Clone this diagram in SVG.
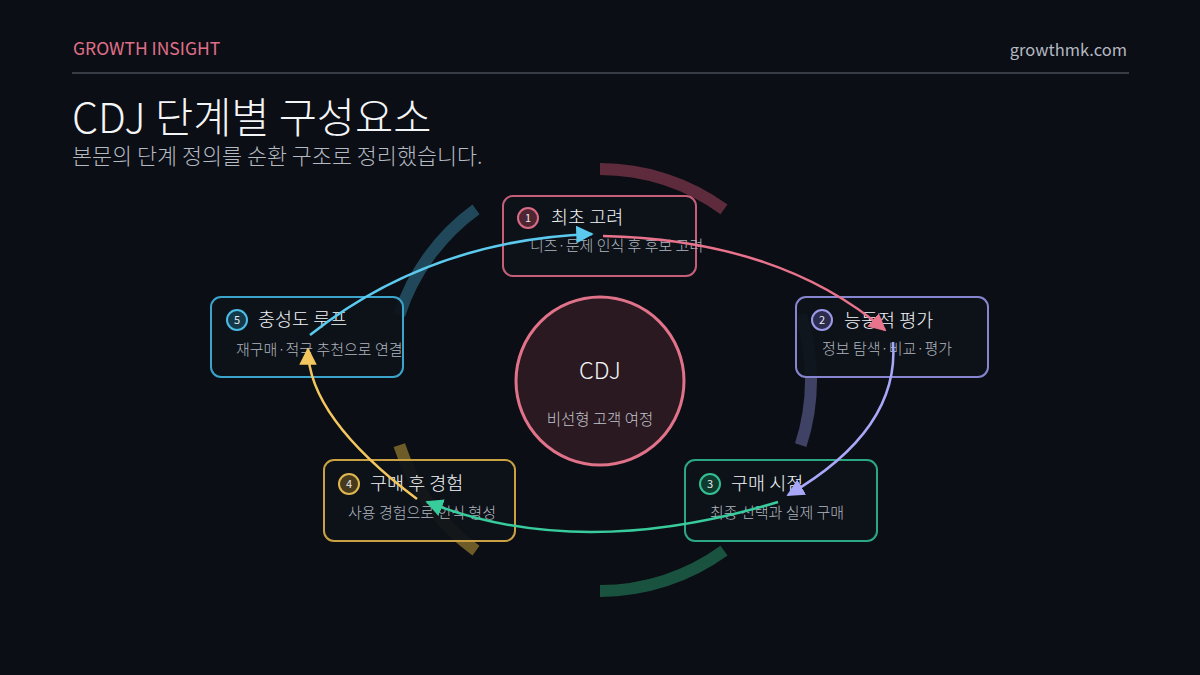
<svg xmlns="http://www.w3.org/2000/svg" width="1200" height="675" viewBox="0 0 1200 675">
<defs>
<style>
text{font-family:"Noto Sans CJK KR","Noto Sans",sans-serif}
.box{fill:#0e131a;fill-opacity:0.94;stroke-width:2}
.ttl{font-size:18.5px;fill:#f2f4f7;font-weight:300}
.sub{font-size:15px;fill:#b0b5bf;font-weight:300}
.num{font-size:11px;fill:#e8eaee;text-anchor:middle}
.arc{fill:none;stroke-width:12;opacity:0.45}
.con{fill:none;stroke-width:2.5}
</style>
<marker id="mPink" viewBox="0 0 10 10" refX="9" refY="5" markerWidth="7" markerHeight="7" orient="auto" markerUnits="strokeWidth"><path d="M0,0 L10,5 L0,10 Z" fill="#e8738c"/></marker>
<marker id="mLav" viewBox="0 0 10 10" refX="9" refY="5" markerWidth="7" markerHeight="7" orient="auto" markerUnits="strokeWidth"><path d="M0,0 L10,5 L0,10 Z" fill="#a9a7f7"/></marker>
<marker id="mGreen" viewBox="0 0 10 10" refX="9" refY="5" markerWidth="7" markerHeight="7" orient="auto" markerUnits="strokeWidth"><path d="M0,0 L10,5 L0,10 Z" fill="#38cc9c"/></marker>
<marker id="mGold" viewBox="0 0 10 10" refX="9" refY="5" markerWidth="7" markerHeight="7" orient="auto" markerUnits="strokeWidth"><path d="M0,0 L10,5 L0,10 Z" fill="#f3c75e"/></marker>
<marker id="mBlue" viewBox="0 0 10 10" refX="9" refY="5" markerWidth="7" markerHeight="7" orient="auto" markerUnits="strokeWidth"><path d="M0,0 L10,5 L0,10 Z" fill="#5ccaee"/></marker>
</defs>
<rect x="0" y="0" width="1200" height="675" fill="#0b0e14"/>

<g id="header">
<text x="73" y="55" style="font-size:17.5px;fill:#e0708a">GROWTH INSIGHT</text>
<text x="1127" y="56" style="font-size:16.5px;fill:#b4b9c2;text-anchor:end">growthmk.com</text>
<line x1="72" y1="73" x2="1129" y2="73" stroke="#363b44" stroke-width="2"/>
<text x="72" y="133" style="font-size:41.5px;fill:#f4f5f7;font-weight:300">CDJ 단계별 구성요소</text>
<text x="72" y="164" style="font-size:21.8px;fill:#b4b9c2;font-weight:300">본문의 단계 정의를 순환 구조로 정리했습니다.</text>
</g>

<g id="ring">
<path class="arc" stroke="#c0506c" d="M600,169 A211,211 0 0 1 724,209.3"/>
<path class="arc" stroke="#7e80c8" d="M800.7,314.8 A211,211 0 0 1 800.7,445.2"/>
<path class="arc" stroke="#2aa876" d="M724,550.7 A211,211 0 0 1 600,591"/>
<path class="arc" stroke="#c09a38" style="opacity:0.55" d="M476,550.7 A211,211 0 0 1 399.3,445.2"/>
<path class="arc" stroke="#3a90b0" d="M399.3,314.8 A211,211 0 0 1 476,209.3"/>
</g>

<g id="center">
<circle cx="600" cy="381" r="84" fill="#2a1920" stroke="#e0728a" stroke-width="3"/>
<text x="600" y="379" style="font-size:23.5px;fill:#f2f4f7;text-anchor:middle;font-weight:300">CDJ</text>
<text x="600" y="425" style="font-size:15.5px;fill:#c2c4cc;text-anchor:middle;font-weight:300">비선형 고객 여정</text>
</g>

<g id="node1">
<rect class="box" x="503" y="196" width="193" height="80" rx="10" stroke="#c55f78"/>
<circle cx="528" cy="218" r="10" fill="#4f2532" stroke="#d86c86" stroke-width="2"/>
<text class="num" x="528" y="222">1</text>
<text class="ttl" x="551" y="224">최초 고려</text>
<text class="sub" x="530" y="251">니즈·문제 인식 후 후보 고려</text>
</g>

<g id="node2">
<rect class="box" x="796" y="297" width="192" height="80" rx="10" stroke="#8785cf"/>
<circle cx="822" cy="320" r="10" fill="#2c2c4e" stroke="#9c9ae8" stroke-width="2"/>
<text class="num" x="822" y="324">2</text>
<text class="ttl" x="844" y="327">능동적 평가</text>
<text class="sub" x="822" y="354">정보 탐색·비교·평가</text>
</g>

<g id="node3">
<rect class="box" x="685" y="460" width="192" height="81" rx="10" stroke="#2ba883"/>
<circle cx="710" cy="484" r="10" fill="#0f3a2e" stroke="#34c094" stroke-width="2"/>
<text class="num" x="710" y="488">3</text>
<text class="ttl" x="731" y="490">구매 시점</text>
<text class="sub" x="710" y="518">최종 선택과 실제 구매</text>
</g>

<g id="node4">
<rect class="box" x="324" y="460" width="191" height="81" rx="10" stroke="#c9a142"/>
<circle cx="349" cy="484" r="10" fill="#463a1c" stroke="#e0b64f" stroke-width="2"/>
<text class="num" x="349" y="488">4</text>
<text class="ttl" x="370" y="490">구매 후 경험</text>
<text class="sub" x="348" y="518">사용 경험으로 인식 형성</text>
</g>

<g id="node5">
<rect class="box" x="211" y="297" width="192" height="80" rx="10" stroke="#3aa4ca"/>
<circle cx="237" cy="320" r="10" fill="#12384a" stroke="#4cbde4" stroke-width="2"/>
<text class="num" x="237" y="324">5</text>
<text class="ttl" x="258" y="326">충성도 루프</text>
<text class="sub" x="236" y="355">재구매·적극 추천으로 연결</text>
</g>

<g id="connectors">
<path class="con" stroke="#e8738c" marker-end="url(#mPink)" d="M603,236 Q780,240 885,330"/>
<path class="con" stroke="#a9a7f7" marker-end="url(#mLav)" d="M893,342 Q900,430 788,495"/>
<path class="con" stroke="#38cc9c" marker-end="url(#mGreen)" d="M778,502 Q580,562 427,502"/>
<path class="con" stroke="#f3c75e" marker-end="url(#mGold)" d="M417,499 Q308,417 308,349"/>
<path class="con" stroke="#5ccaee" marker-end="url(#mBlue)" d="M310,335 Q430,240 592,234"/>
</g>
</svg>
